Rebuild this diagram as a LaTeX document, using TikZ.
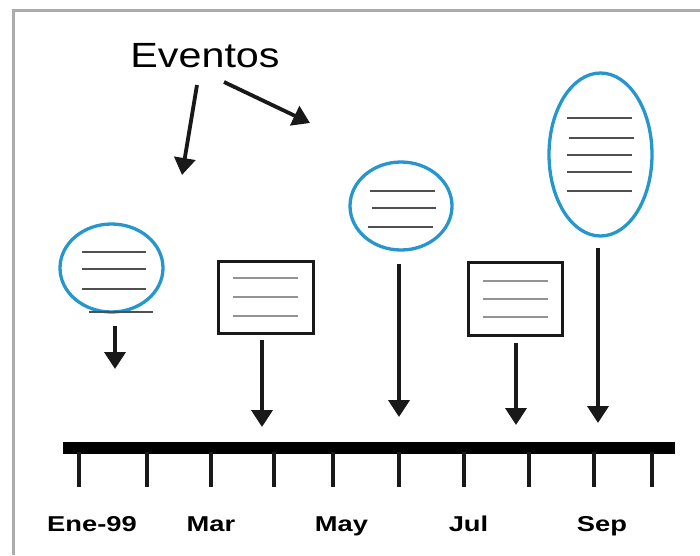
\documentclass[tikz,border=0pt]{standalone}
\usepackage{fontspec}
\setmainfont{Liberation Sans}
\usetikzlibrary{shapes.geometric,arrows.meta}
\definecolor{evblue}{RGB}{38,150,204}
\definecolor{framegray}{RGB}{172,172,172}
\definecolor{rulegray}{RGB}{80,80,80}
\tikzset{
  evoval/.style={ellipse,draw=evblue,line width=3.3pt,inner sep=0pt},
  evbox/.style={rectangle,draw=black!90,line width=3pt,inner sep=0pt},
  textrule/.style={draw=rulegray,line width=1.9pt},
  boxrule/.style={draw=gray!85,line width=1.5pt},
  pointer/.style={draw=black!90,line width=3.8pt,-{Triangle[width=21pt,length=17pt]}},
  tickmark/.style={draw=black!90,line width=3.6pt},
  month/.style={anchor=base,inner sep=0pt,font=\fontsize{21.5}{24}\selectfont\bfseries}
}
\begin{document}
\begin{tikzpicture}[x=1pt,y=-1pt]
\useasboundingbox (0,0) rectangle (700,555);
% frame along the top and left edge
\draw[framegray,line width=3pt] (13,555) -- (13,10) -- (700,10);

% title and its arrows
\node[anchor=base,inner sep=0pt,font=\fontsize{35}{40}\selectfont] (title) at (205,67) {\scalebox{1.18}[1]{Eventos}};
\coordinate (t1s) at (197,85);
\coordinate (t1e) at (182,175);
\coordinate (t2s) at (224,82);
\coordinate (t2e) at (310,123);
\draw[pointer] (t1s) -- (t1e);
\draw[pointer] (t2s) -- (t2e);

% event shapes
\node[evoval,minimum width=103pt,minimum height=88pt] (e1) at (111.5,268) {};
\node[evbox,minimum width=95pt,minimum height=72pt] (b1) at (265.5,297.5) {};
\node[evoval,minimum width=102pt,minimum height=88pt] (e2) at (401,206) {};
\node[evbox,minimum width=94pt,minimum height=73pt] (b2) at (515.5,299) {};
\node[evoval,minimum width=103pt,minimum height=163pt] (e3) at (600.5,154.5) {};

% written lines inside the shapes
\draw[textrule] (82,252) -- (146,252) (82,269) -- (146,269) (82,289) -- (146,289);
\draw[textrule] (89,312) -- (153,312);
\draw[boxrule] (233,278) -- (298,278) (233,297) -- (298,297) (233,316) -- (298,316);
\draw[textrule] (370,191) -- (435,191) (372,208) -- (436,208) (368,227) -- (433,227);
\draw[boxrule] (483,281) -- (548,281) (483,299) -- (548,299) (483,317) -- (548,317);
\draw[textrule] (567,118) -- (632,118) (569,138) -- (634,138) (567,155) -- (632,155)
                (567,172) -- (632,172) (567,191) -- (632,191);

% pointers towards the time line
\coordinate (a1s) at (115,326);  \coordinate (a1e) at (115,369);
\coordinate (a2s) at (262,340);  \coordinate (a2e) at (262,427);
\coordinate (a3s) at (399,264);  \coordinate (a3e) at (399,417);
\coordinate (a4s) at (516,343);  \coordinate (a4e) at (516,425);
\coordinate (a5s) at (598,248);  \coordinate (a5e) at (598,423);
\foreach \p in {1,...,5} \draw[pointer] (a\p s) -- (a\p e);

% time line and its ticks
\coordinate (lineL) at (63,448);
\coordinate (lineR) at (675,448);
\draw[black,line width=11.5pt] (lineL) -- (lineR);
\foreach \x in {79,147,211,274,333,399,464,529,594,652}
  \draw[tickmark] (\x,452) -- (\x,487);

% month labels
\node[month] (m1) at (92,531) {\scalebox{1.27}[1]{Ene-99}};
\node[month] (m2) at (211,531) {\scalebox{1.27}[1]{Mar}};
\node[month] (m3) at (341.5,531) {\scalebox{1.27}[1]{May}};
\node[month] (m4) at (468.5,531) {\scalebox{1.27}[1]{Jul}};
\node[month] (m5) at (602,531) {\scalebox{1.27}[1]{Sep}};
\end{tikzpicture}
\end{document}
